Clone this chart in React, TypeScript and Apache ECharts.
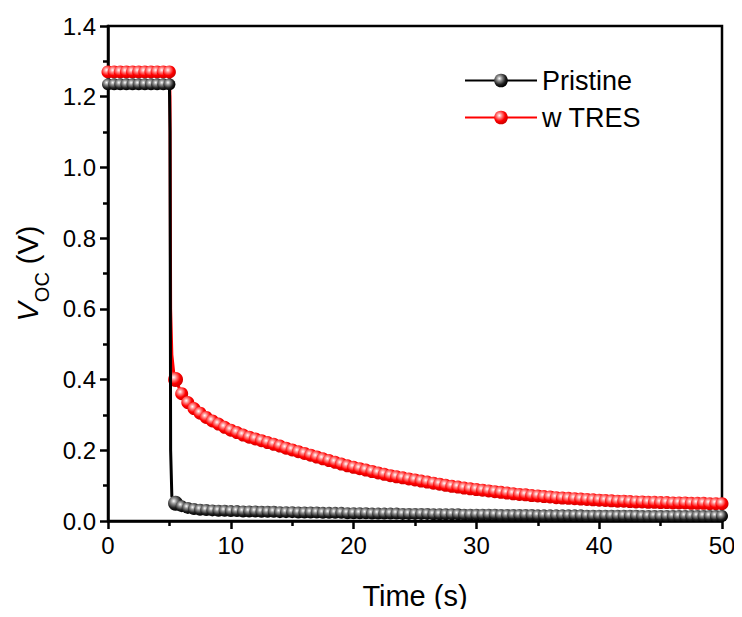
import React, { useEffect, useRef } from "react";
import * as echarts from "echarts";

// Time grid of the plotted markers (s)
const times = [
  0, 0.5, 1, 1.5, 2, 2.5, 3, 3.5, 4, 4.5, 5,
  5.5, 6, 6.5, 7, 7.5, 8, 8.5, 9, 9.5, 10,
  10.5, 11, 11.5, 12, 12.5, 13, 13.5, 14, 14.5, 15,
  15.5, 16, 16.5, 17, 17.5, 18, 18.5, 19, 19.5, 20,
  20.5, 21, 21.5, 22, 22.5, 23, 23.5, 24, 24.5, 25,
  25.5, 26, 26.5, 27, 27.5, 28, 28.5, 29, 29.5, 30,
  30.5, 31, 31.5, 32, 32.5, 33, 33.5, 34, 34.5, 35,
  35.5, 36, 36.5, 37, 37.5, 38, 38.5, 39, 39.5, 40,
  40.5, 41, 41.5, 42, 42.5, 43, 43.5, 44, 44.5, 45,
  45.5, 46, 46.5, 47, 47.5, 48, 48.5, 49, 49.5, 50,
];

// V_OC of the pristine device (V)
const pristine = [
  1.235, 1.235, 1.235, 1.235, 1.235, 1.235, 1.235, 1.235, 1.235, 1.235, 1.235,
  0.05, 0.042, 0.037, 0.034, 0.032, 0.031, 0.030, 0.029, 0.029, 0.028,
  0.028, 0.027, 0.027, 0.027, 0.026, 0.026, 0.026, 0.025, 0.025, 0.025,
  0.024, 0.024, 0.024, 0.024, 0.023, 0.023, 0.023, 0.023, 0.022, 0.022,
  0.022, 0.022, 0.021, 0.021, 0.021, 0.021, 0.021, 0.020, 0.020, 0.020,
  0.020, 0.020, 0.019, 0.019, 0.019, 0.019, 0.019, 0.018, 0.018, 0.018,
  0.018, 0.018, 0.018, 0.017, 0.017, 0.017, 0.017, 0.017, 0.017, 0.016,
  0.016, 0.016, 0.016, 0.016, 0.016, 0.016, 0.016, 0.015, 0.015, 0.015,
  0.015, 0.015, 0.015, 0.015, 0.015, 0.015, 0.014, 0.014, 0.014, 0.014,
  0.014, 0.014, 0.014, 0.014, 0.014, 0.014, 0.014, 0.014, 0.014, 0.014,
];

// V_OC of the device with TRES (V)
const tres = [
  1.27, 1.27, 1.27, 1.27, 1.27, 1.27, 1.27, 1.27, 1.27, 1.27, 1.27,
  0.40, 0.36, 0.335, 0.318, 0.305, 0.293, 0.283, 0.274, 0.265, 0.257,
  0.250, 0.243, 0.237, 0.232, 0.227, 0.222, 0.217, 0.212, 0.206, 0.201,
  0.196, 0.191, 0.186, 0.181, 0.176, 0.171, 0.166, 0.161, 0.156, 0.152,
  0.148, 0.144, 0.140, 0.136, 0.132, 0.128, 0.125, 0.122, 0.119, 0.116,
  0.113, 0.110, 0.107, 0.104, 0.101, 0.098, 0.096, 0.093, 0.091, 0.089,
  0.087, 0.085, 0.083, 0.081, 0.079, 0.077, 0.075, 0.074, 0.072, 0.071,
  0.069, 0.068, 0.066, 0.065, 0.064, 0.063, 0.062, 0.061, 0.060, 0.059,
  0.058, 0.057, 0.056, 0.056, 0.055, 0.054, 0.054, 0.053, 0.053, 0.052,
  0.052, 0.051, 0.051, 0.051, 0.050, 0.050, 0.050, 0.049, 0.049, 0.049,
];

// Fast-decay points on the continuous trace (no marker drawn there)
const pristineDrop = [[5.05, 1.1], [5.1, 0.2], [5.2, 0.07]];
const tresDrop = [[5.05, 1.2], [5.1, 0.6], [5.2, 0.47], [5.35, 0.42]];

const xTicks = [0, 10, 20, 30, 40, 50];
const yTicks = [0, 0.2, 0.4, 0.6, 0.8, 1.0, 1.2, 1.4];

function buildData(vals: number[], drop: number[][]) {
  const out: any[] = [];
  times.forEach((t, i) => {
    if (t === 5.5) {
      out.push({ value: [t, vals[i]], symbolSize: 15 });
    } else {
      out.push([t, vals[i]]);
    }
    if (t === 5) {
      drop.forEach((p) => out.push({ value: p, symbol: "none" }));
    }
  });
  return out;
}

const FONT = "Liberation Sans, Arial, sans-serif";

export default function App() {
  const ref = useRef<HTMLDivElement>(null);
  useEffect(() => {
    if (!ref.current) return;
    const chart = echarts.init(ref.current, undefined, { renderer: "svg" });
    const redBall = new echarts.graphic.RadialGradient(0.38, 0.35, 0.65, [
      { offset: 0, color: "#ffffff" },
      { offset: 0.3, color: "#ff8080" },
      { offset: 0.65, color: "#ff0000" },
      { offset: 1, color: "#d00000" },
    ]);
    const blackBall = new echarts.graphic.RadialGradient(0.38, 0.35, 0.65, [
      { offset: 0, color: "#ffffff" },
      { offset: 0.3, color: "#909090" },
      { offset: 0.7, color: "#202020" },
      { offset: 1, color: "#000000" },
    ]);
    const axisCommon = {
      axisLine: { show: true, onZero: false, lineStyle: { color: "#000", width: 2.5 } },
      axisTick: { show: true, inside: false, length: 8, lineStyle: { color: "#000", width: 2.5 } },
      minorTick: { show: true, splitNumber: 2, length: 5, lineStyle: { color: "#000", width: 2.5 } },
      splitLine: { show: false },
    };
    chart.setOption({
      animation: false,
      backgroundColor: "#fff",
      grid: {
        left: 108, top: 26, width: 614, height: 495,
        show: true, borderColor: "#000", borderWidth: 2.5, backgroundColor: "transparent",
      },
      legend: {
        data: ["Pristine", "w TRES"],
        orient: "vertical",
        left: 459,
        top: 62,
        itemWidth: 72,
        itemHeight: 17,
        itemGap: 10,
        textStyle: { fontFamily: FONT, fontSize: 27, color: "#000" },
      },
      xAxis: {
        type: "value",
        min: 0, max: 50, interval: 10,
        name: "Time (s)",
        nameLocation: "middle",
        nameGap: 60,
        nameTextStyle: { fontFamily: FONT, fontSize: 29, color: "#000" },
        axisLabel: {
          fontFamily: FONT, fontSize: 24, color: "#000", margin: 12,
          formatter: (v: number) => (xTicks.includes(v) ? String(v) : ""),
        },
        ...axisCommon,
      },
      yAxis: {
        type: "value",
        min: 0, max: 1.4, interval: 0.2,
        name: "{i|V}{s|OC}{n| (V)}",
        nameLocation: "middle",
        nameGap: 63,
        nameTextStyle: {
          fontFamily: FONT, color: "#000",
          rich: {
            i: { fontFamily: FONT, fontSize: 29, fontStyle: "italic", color: "#000", verticalAlign: "bottom", lineHeight: 32 },
            s: { fontFamily: FONT, fontSize: 20, color: "#000", verticalAlign: "bottom", lineHeight: 32, padding: [0, 0, -9, 0] },
            n: { fontFamily: FONT, fontSize: 29, color: "#000", verticalAlign: "bottom", lineHeight: 32 },
          },
        },
        axisLabel: {
          fontFamily: FONT, fontSize: 24, color: "#000", margin: 12,
          formatter: (v: number) => {
            const hit = yTicks.find((t) => Math.abs(t - v) < 1e-9);
            return hit === undefined ? "" : hit.toFixed(1);
          },
        },
        ...axisCommon,
      },
      series: [
        {
          name: "w TRES",
          type: "line",
          data: buildData(tres, tresDrop),
          symbol: "circle",
          symbolSize: 13,
          showAllSymbol: true,
          lineStyle: { color: "#ff0000", width: 3 },
          itemStyle: { color: redBall, borderWidth: 0 },
          z: 2,
        },
        {
          name: "Pristine",
          type: "line",
          data: buildData(pristine, pristineDrop),
          symbol: "circle",
          symbolSize: 12,
          showAllSymbol: true,
          lineStyle: { color: "#000000", width: 3 },
          itemStyle: { color: blackBall, borderWidth: 0 },
          z: 3,
        },
      ],
    });
    return () => chart.dispose();
  }, []);
  return <div ref={ref} style={{ width: 742, height: 617, margin: -8 }} />;
}
